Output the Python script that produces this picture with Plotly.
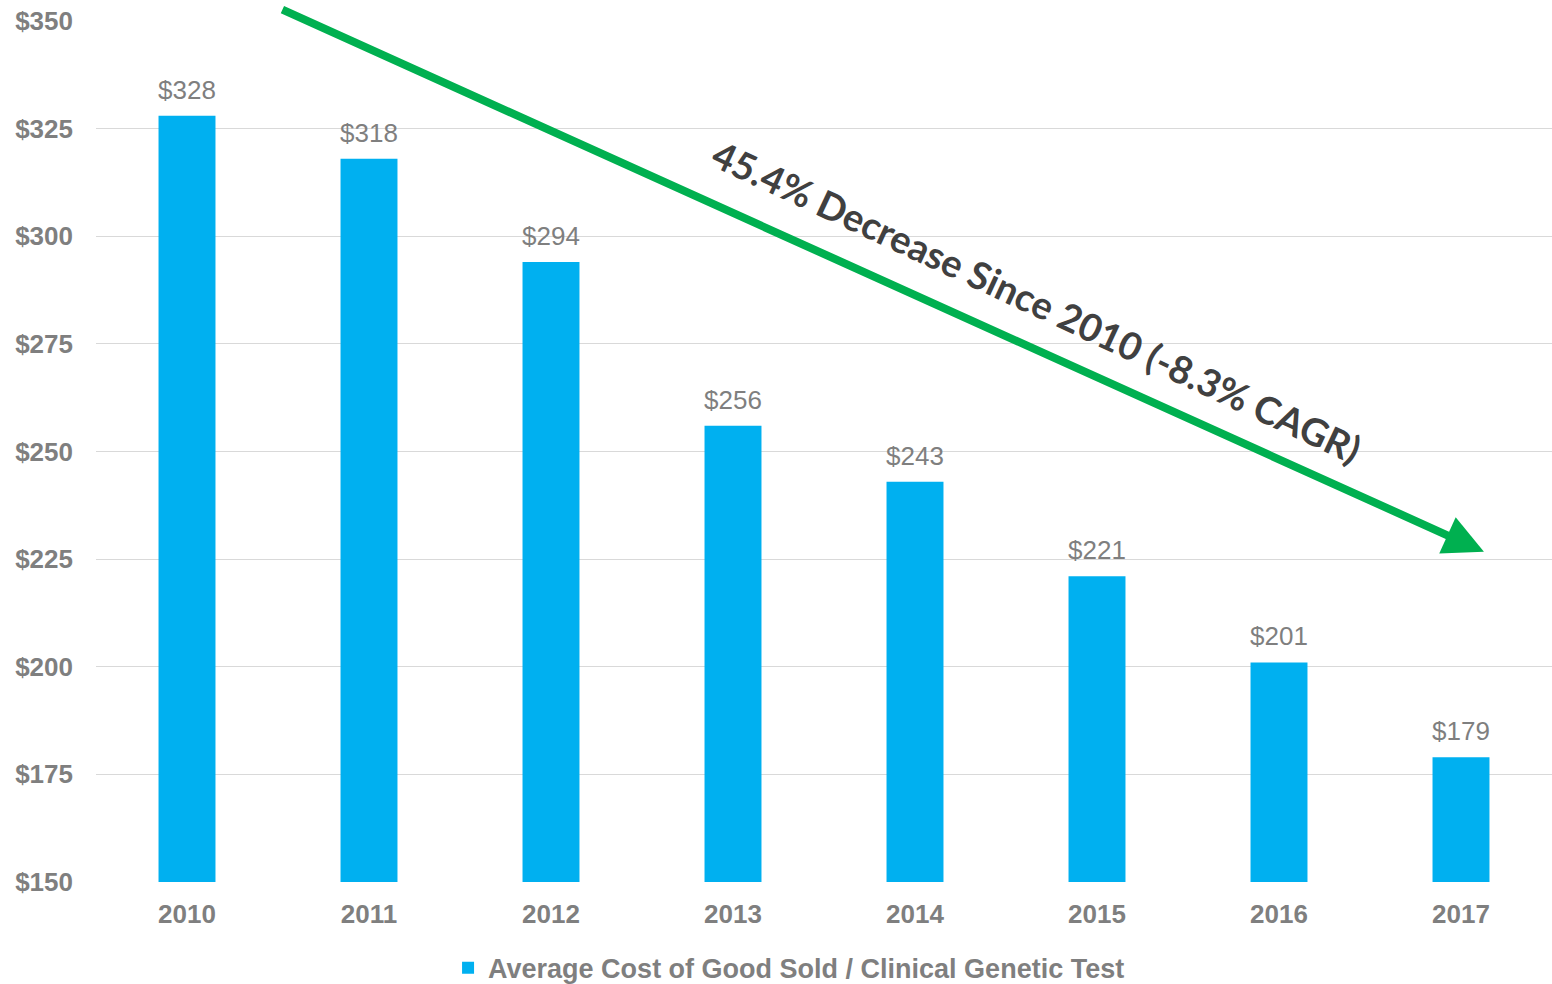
import plotly.graph_objects as go

years = ["2010", "2011", "2012", "2013", "2014", "2015", "2016", "2017"]
avg_cogs = [328, 318, 294, 256, 243, 221, 201, 179]
y_ticks = [150, 175, 200, 225, 250, 275, 300, 325, 350]
series_name = "Average Cost of Good Sold / Clinical Genetic Test"
trend_text = "45.4% Decrease Since 2010 (-8.3% CAGR)"

gray = "#7f7f7f"
blue = "#00B0F0"
green = "#00B050"

fig = go.Figure()
fig.add_trace(go.Bar(
    x=years,
    y=avg_cogs,
    name=series_name,
    marker=dict(color=blue, line=dict(width=0)),
    showlegend=True,
))

# value labels above each bar (category index positions)
for i, v in enumerate(avg_cogs):
    fig.add_annotation(
        x=i, y=v, xref="x", yref="y", text=f"${v}", showarrow=False,
        yanchor="bottom", yshift=9,
        font=dict(family="Arial", size=26, color=gray),
    )

# trend arrow
fig.add_annotation(
    x=7.126, y=226.7, xref="x", yref="y",
    ax=0.516, ay=352.8, axref="x", ayref="y",
    showarrow=True, arrowhead=2, arrowsize=1.0, arrowwidth=8,
    arrowcolor=green, text="",
)
fig.add_annotation(
    x=4.67, y=285.0, xref="x", yref="y",
    text=f"<b>{trend_text}</b>", showarrow=False, textangle=25,
    font=dict(family="Lato", size=38, color="#404040"),
)

fig.update_layout(
    width=1552, height=984,
    margin=dict(l=96, r=0, t=21, b=102, autoexpand=False),
    paper_bgcolor="white", plot_bgcolor="white",
    bargap=0.687,
    font=dict(family="Arial", color=gray),
    legend=dict(
        orientation="h", x=0.476, xanchor="center", y=-0.1, yanchor="middle",
        font=dict(family="Arial", size=27, color=gray, weight="bold"),
        itemsizing="constant", itemwidth=30,
    ),
    xaxis=dict(
        type="category", range=[-0.5, 7.5], showgrid=False, showline=False,
        ticks="",
        tickfont=dict(family="Arial", size=26, color=gray, weight="bold"),
        ticklabelstandoff=14,
    ),
    yaxis=dict(
        range=[150, 350], tickvals=y_ticks,
        ticktext=[f"${v}" for v in y_ticks],
        showgrid=True, gridcolor="#d9d9d9", gridwidth=1,
        zeroline=False, showline=False, ticks="",
        tickfont=dict(family="Arial", size=26, color=gray, weight="bold"),
        ticklabelstandoff=22,
    ),
)

fig.write_html("out.html")
